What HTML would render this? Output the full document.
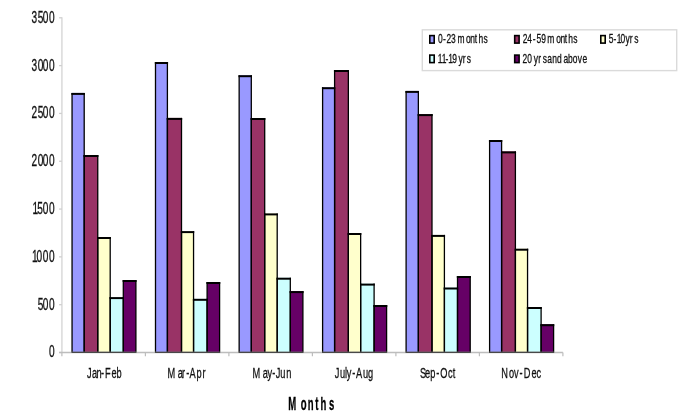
<!DOCTYPE html>
<html><head><meta charset="utf-8"><title>Chart</title>
<style>
html,body{margin:0;padding:0;background:#fff;width:685px;height:420px;overflow:hidden}
svg{display:block}
text{font-family:"Liberation Sans",sans-serif;fill:#111;stroke:#111;stroke-width:0.3px}
.tt{font-weight:bold;fill:#000;stroke:#000}
</style></head>
<body>
<svg width="685" height="420" viewBox="0 0 685 420">
<rect width="685" height="420" fill="#fff"/>
<line x1="61.9" y1="17.2" x2="61.9" y2="352.5" stroke="#dedede" stroke-width="1.7"/>
<line x1="59.1" y1="352.50" x2="61.9" y2="352.50" stroke="#cfcfcf" stroke-width="1.3"/>
<text transform="translate(49.10 357.40) scale(0.6450 1)" x="-0.00" y="0" font-size="15.7" class="t">0</text>
<line x1="59.1" y1="304.69" x2="61.9" y2="304.69" stroke="#cfcfcf" stroke-width="1.3"/>
<text transform="translate(37.69 309.59) scale(0.6450 1)" x="0.00 7.77 17.69" y="0" font-size="15.7" class="t">500</text>
<line x1="59.1" y1="256.87" x2="61.9" y2="256.87" stroke="#cfcfcf" stroke-width="1.3"/>
<text transform="translate(32.03 261.77) scale(0.6450 1)" x="-0.00 6.94 16.55 26.47" y="0" font-size="15.7" class="t">1000</text>
<line x1="59.1" y1="209.06" x2="61.9" y2="209.06" stroke="#cfcfcf" stroke-width="1.3"/>
<text transform="translate(32.43 213.96) scale(0.6450 1)" x="-0.00 7.39 15.93 25.85" y="0" font-size="15.7" class="t">1500</text>
<line x1="59.1" y1="161.24" x2="61.9" y2="161.24" stroke="#cfcfcf" stroke-width="1.3"/>
<text transform="translate(31.39 166.14) scale(0.6450 1)" x="-0.00 9.79 17.54 27.46" y="0" font-size="15.7" class="t">2000</text>
<line x1="59.1" y1="113.43" x2="61.9" y2="113.43" stroke="#cfcfcf" stroke-width="1.3"/>
<text transform="translate(31.39 118.33) scale(0.6450 1)" x="-0.00 9.77 17.54 27.46" y="0" font-size="15.7" class="t">2500</text>
<line x1="59.1" y1="65.61" x2="61.9" y2="65.61" stroke="#cfcfcf" stroke-width="1.3"/>
<text transform="translate(31.51 70.51) scale(0.6450 1)" x="-0.00 9.60 17.35 27.27" y="0" font-size="15.7" class="t">3000</text>
<line x1="59.1" y1="17.80" x2="61.9" y2="17.80" stroke="#cfcfcf" stroke-width="1.3"/>
<text transform="translate(31.51 22.70) scale(0.6450 1)" x="-0.00 9.58 17.35 27.27" y="0" font-size="15.7" class="t">3500</text>
<rect x="72.05" y="92.90" width="12.15" height="259.60" fill="#9999FF"/>
<rect x="84.20" y="155.00" width="13.55" height="197.50" fill="#993366"/>
<rect x="97.75" y="237.00" width="12.45" height="115.50" fill="#FFFFCC"/>
<rect x="110.20" y="297.10" width="13.10" height="55.40" fill="#CCFFFF"/>
<rect x="123.30" y="280.00" width="12.60" height="72.50" fill="#660066"/>
<rect x="155.50" y="62.00" width="11.90" height="290.50" fill="#9999FF"/>
<rect x="167.40" y="117.90" width="14.10" height="234.60" fill="#993366"/>
<rect x="181.50" y="231.10" width="12.05" height="121.40" fill="#FFFFCC"/>
<rect x="193.55" y="298.80" width="13.55" height="53.70" fill="#CCFFFF"/>
<rect x="207.10" y="282.00" width="12.50" height="70.50" fill="#660066"/>
<rect x="239.15" y="75.20" width="12.15" height="277.30" fill="#9999FF"/>
<rect x="251.30" y="118.00" width="13.40" height="234.50" fill="#993366"/>
<rect x="264.70" y="213.40" width="12.50" height="139.10" fill="#FFFFCC"/>
<rect x="277.20" y="277.70" width="13.10" height="74.80" fill="#CCFFFF"/>
<rect x="290.30" y="291.10" width="12.60" height="61.40" fill="#660066"/>
<rect x="322.60" y="87.20" width="12.00" height="265.30" fill="#9999FF"/>
<rect x="334.60" y="70.00" width="13.75" height="282.50" fill="#993366"/>
<rect x="348.35" y="233.00" width="12.30" height="119.50" fill="#FFFFCC"/>
<rect x="360.65" y="283.60" width="13.45" height="68.90" fill="#CCFFFF"/>
<rect x="374.10" y="305.00" width="12.50" height="47.50" fill="#660066"/>
<rect x="406.10" y="90.90" width="12.25" height="261.60" fill="#9999FF"/>
<rect x="418.35" y="114.10" width="13.65" height="238.40" fill="#993366"/>
<rect x="432.00" y="234.90" width="12.40" height="117.60" fill="#FFFFCC"/>
<rect x="444.40" y="287.50" width="13.10" height="65.00" fill="#CCFFFF"/>
<rect x="457.50" y="276.00" width="12.70" height="76.50" fill="#660066"/>
<rect x="489.60" y="140.00" width="12.00" height="212.50" fill="#9999FF"/>
<rect x="501.60" y="151.40" width="13.80" height="201.10" fill="#993366"/>
<rect x="515.40" y="248.70" width="12.15" height="103.80" fill="#FFFFCC"/>
<rect x="527.55" y="307.00" width="13.55" height="45.50" fill="#CCFFFF"/>
<rect x="541.10" y="324.20" width="12.50" height="28.30" fill="#660066"/>
<g stroke="#000" stroke-width="1.3"><line x1="72.05" y1="92.90" x2="72.05" y2="352.50"/>
<line x1="84.20" y1="92.90" x2="84.20" y2="352.50"/>
<line x1="71.40" y1="93.90" x2="84.85" y2="93.90" stroke-width="2.0"/>
<line x1="84.20" y1="155.00" x2="84.20" y2="352.50"/>
<line x1="97.75" y1="155.00" x2="97.75" y2="352.50"/>
<line x1="83.55" y1="156.00" x2="98.40" y2="156.00" stroke-width="2.0"/>
<line x1="97.75" y1="237.00" x2="97.75" y2="352.50"/>
<line x1="110.20" y1="237.00" x2="110.20" y2="352.50"/>
<line x1="97.10" y1="238.00" x2="110.85" y2="238.00" stroke-width="2.0"/>
<line x1="110.20" y1="297.10" x2="110.20" y2="352.50"/>
<line x1="123.30" y1="297.10" x2="123.30" y2="352.50"/>
<line x1="109.55" y1="298.10" x2="123.95" y2="298.10" stroke-width="2.0"/>
<line x1="123.30" y1="280.00" x2="123.30" y2="352.50"/>
<line x1="135.90" y1="280.00" x2="135.90" y2="352.50"/>
<line x1="122.65" y1="281.00" x2="136.55" y2="281.00" stroke-width="2.0"/>
<line x1="155.50" y1="62.00" x2="155.50" y2="352.50"/>
<line x1="167.40" y1="62.00" x2="167.40" y2="352.50"/>
<line x1="154.85" y1="63.00" x2="168.05" y2="63.00" stroke-width="2.0"/>
<line x1="167.40" y1="117.90" x2="167.40" y2="352.50"/>
<line x1="181.50" y1="117.90" x2="181.50" y2="352.50"/>
<line x1="166.75" y1="118.90" x2="182.15" y2="118.90" stroke-width="2.0"/>
<line x1="181.50" y1="231.10" x2="181.50" y2="352.50"/>
<line x1="193.55" y1="231.10" x2="193.55" y2="352.50"/>
<line x1="180.85" y1="232.10" x2="194.20" y2="232.10" stroke-width="2.0"/>
<line x1="193.55" y1="298.80" x2="193.55" y2="352.50"/>
<line x1="207.10" y1="298.80" x2="207.10" y2="352.50"/>
<line x1="192.90" y1="299.80" x2="207.75" y2="299.80" stroke-width="2.0"/>
<line x1="207.10" y1="282.00" x2="207.10" y2="352.50"/>
<line x1="219.60" y1="282.00" x2="219.60" y2="352.50"/>
<line x1="206.45" y1="283.00" x2="220.25" y2="283.00" stroke-width="2.0"/>
<line x1="239.15" y1="75.20" x2="239.15" y2="352.50"/>
<line x1="251.30" y1="75.20" x2="251.30" y2="352.50"/>
<line x1="238.50" y1="76.20" x2="251.95" y2="76.20" stroke-width="2.0"/>
<line x1="251.30" y1="118.00" x2="251.30" y2="352.50"/>
<line x1="264.70" y1="118.00" x2="264.70" y2="352.50"/>
<line x1="250.65" y1="119.00" x2="265.35" y2="119.00" stroke-width="2.0"/>
<line x1="264.70" y1="213.40" x2="264.70" y2="352.50"/>
<line x1="277.20" y1="213.40" x2="277.20" y2="352.50"/>
<line x1="264.05" y1="214.40" x2="277.85" y2="214.40" stroke-width="2.0"/>
<line x1="277.20" y1="277.70" x2="277.20" y2="352.50"/>
<line x1="290.30" y1="277.70" x2="290.30" y2="352.50"/>
<line x1="276.55" y1="278.70" x2="290.95" y2="278.70" stroke-width="2.0"/>
<line x1="290.30" y1="291.10" x2="290.30" y2="352.50"/>
<line x1="302.90" y1="291.10" x2="302.90" y2="352.50"/>
<line x1="289.65" y1="292.10" x2="303.55" y2="292.10" stroke-width="2.0"/>
<line x1="322.60" y1="87.20" x2="322.60" y2="352.50"/>
<line x1="334.60" y1="87.20" x2="334.60" y2="352.50"/>
<line x1="321.95" y1="88.20" x2="335.25" y2="88.20" stroke-width="2.0"/>
<line x1="334.60" y1="70.00" x2="334.60" y2="352.50"/>
<line x1="348.35" y1="70.00" x2="348.35" y2="352.50"/>
<line x1="333.95" y1="71.00" x2="349.00" y2="71.00" stroke-width="2.0"/>
<line x1="348.35" y1="233.00" x2="348.35" y2="352.50"/>
<line x1="360.65" y1="233.00" x2="360.65" y2="352.50"/>
<line x1="347.70" y1="234.00" x2="361.30" y2="234.00" stroke-width="2.0"/>
<line x1="360.65" y1="283.60" x2="360.65" y2="352.50"/>
<line x1="374.10" y1="283.60" x2="374.10" y2="352.50"/>
<line x1="360.00" y1="284.60" x2="374.75" y2="284.60" stroke-width="2.0"/>
<line x1="374.10" y1="305.00" x2="374.10" y2="352.50"/>
<line x1="386.60" y1="305.00" x2="386.60" y2="352.50"/>
<line x1="373.45" y1="306.00" x2="387.25" y2="306.00" stroke-width="2.0"/>
<line x1="406.10" y1="90.90" x2="406.10" y2="352.50"/>
<line x1="418.35" y1="90.90" x2="418.35" y2="352.50"/>
<line x1="405.45" y1="91.90" x2="419.00" y2="91.90" stroke-width="2.0"/>
<line x1="418.35" y1="114.10" x2="418.35" y2="352.50"/>
<line x1="432.00" y1="114.10" x2="432.00" y2="352.50"/>
<line x1="417.70" y1="115.10" x2="432.65" y2="115.10" stroke-width="2.0"/>
<line x1="432.00" y1="234.90" x2="432.00" y2="352.50"/>
<line x1="444.40" y1="234.90" x2="444.40" y2="352.50"/>
<line x1="431.35" y1="235.90" x2="445.05" y2="235.90" stroke-width="2.0"/>
<line x1="444.40" y1="287.50" x2="444.40" y2="352.50"/>
<line x1="457.50" y1="287.50" x2="457.50" y2="352.50"/>
<line x1="443.75" y1="288.50" x2="458.15" y2="288.50" stroke-width="2.0"/>
<line x1="457.50" y1="276.00" x2="457.50" y2="352.50"/>
<line x1="470.20" y1="276.00" x2="470.20" y2="352.50"/>
<line x1="456.85" y1="277.00" x2="470.85" y2="277.00" stroke-width="2.0"/>
<line x1="489.60" y1="140.00" x2="489.60" y2="352.50"/>
<line x1="501.60" y1="140.00" x2="501.60" y2="352.50"/>
<line x1="488.95" y1="141.00" x2="502.25" y2="141.00" stroke-width="2.0"/>
<line x1="501.60" y1="151.40" x2="501.60" y2="352.50"/>
<line x1="515.40" y1="151.40" x2="515.40" y2="352.50"/>
<line x1="500.95" y1="152.40" x2="516.05" y2="152.40" stroke-width="2.0"/>
<line x1="515.40" y1="248.70" x2="515.40" y2="352.50"/>
<line x1="527.55" y1="248.70" x2="527.55" y2="352.50"/>
<line x1="514.75" y1="249.70" x2="528.20" y2="249.70" stroke-width="2.0"/>
<line x1="527.55" y1="307.00" x2="527.55" y2="352.50"/>
<line x1="541.10" y1="307.00" x2="541.10" y2="352.50"/>
<line x1="526.90" y1="308.00" x2="541.75" y2="308.00" stroke-width="2.0"/>
<line x1="541.10" y1="324.20" x2="541.10" y2="352.50"/>
<line x1="553.60" y1="324.20" x2="553.60" y2="352.50"/>
<line x1="540.45" y1="325.20" x2="554.25" y2="325.20" stroke-width="2.0"/></g>
<line x1="59.1" y1="352.5" x2="562.9" y2="352.5" stroke="#bdbdbd" stroke-width="1.3"/>
<line x1="61.90" y1="352.5" x2="61.90" y2="356.3" stroke="#bdbdbd" stroke-width="1.2"/>
<line x1="145.40" y1="352.5" x2="145.40" y2="356.3" stroke="#bdbdbd" stroke-width="1.2"/>
<line x1="228.90" y1="352.5" x2="228.90" y2="356.3" stroke="#bdbdbd" stroke-width="1.2"/>
<line x1="312.40" y1="352.5" x2="312.40" y2="356.3" stroke="#bdbdbd" stroke-width="1.2"/>
<line x1="395.90" y1="352.5" x2="395.90" y2="356.3" stroke="#bdbdbd" stroke-width="1.2"/>
<line x1="479.40" y1="352.5" x2="479.40" y2="356.3" stroke="#bdbdbd" stroke-width="1.2"/>
<line x1="562.90" y1="352.5" x2="562.90" y2="356.3" stroke="#bdbdbd" stroke-width="1.2"/>
<line x1="71.45" y1="352.25" x2="136.50" y2="352.25" stroke="#222" stroke-width="1.2"/>
<line x1="154.90" y1="352.25" x2="220.20" y2="352.25" stroke="#222" stroke-width="1.2"/>
<line x1="238.55" y1="352.25" x2="303.50" y2="352.25" stroke="#222" stroke-width="1.2"/>
<line x1="322.00" y1="352.25" x2="387.20" y2="352.25" stroke="#222" stroke-width="1.2"/>
<line x1="405.50" y1="352.25" x2="470.80" y2="352.25" stroke="#222" stroke-width="1.2"/>
<line x1="489.00" y1="352.25" x2="554.20" y2="352.25" stroke="#222" stroke-width="1.2"/>
<text transform="translate(86.96 378.40) scale(0.6000 1)" x="-0.00 8.25 16.05 23.56 30.14 40.92 49.25" y="0" font-size="15.4" class="t">Jan-Feb</text>
<text transform="translate(167.54 378.40) scale(0.6000 1)" x="0.00 16.94 24.24 31.25 36.73 48.44 58.24" y="0" font-size="15.4" class="t">Mar-Apr</text>
<text transform="translate(252.54 378.40) scale(0.6000 1)" x="0.00 16.94 24.73 32.91 38.86 46.26 56.07" y="0" font-size="15.4" class="t">May-Jun</text>
<text transform="translate(334.86 378.40) scale(0.6000 1)" x="0.00 8.41 16.70 19.87 29.06 35.21 46.74 55.43" y="0" font-size="15.4" class="t">July-Aug</text>
<text transform="translate(419.88 378.40) scale(0.6000 1)" x="-0.00 8.71 17.21 27.35 33.80 47.05 54.63" y="0" font-size="15.4" class="t">Sep-Oct</text>
<text transform="translate(501.24 378.40) scale(0.6000 1)" x="-0.00 13.12 21.38 30.58 37.67 50.44 58.61" y="0" font-size="15.4" class="t">Nov-Dec</text>
<text transform="translate(288.26 409.70) scale(0.5300 1)" x="-0.00 23.71 37.00 51.17 60.89 76.99" y="0" font-size="18" class="tt">Months</text>
<rect x="422.3" y="29.8" width="254.4" height="40.8" fill="#fff" stroke="#dadada" stroke-width="1.4"/>
<rect x="429.80" y="35.60" width="4.4" height="7.5" fill="#9999FF" stroke="#000" stroke-width="1.6"/>
<text transform="translate(438.07 42.90) scale(0.6600 1)" x="-0.00 7.66 12.89 19.71 26.83 29.50 42.39 48.59 55.76 61.13 68.78" y="0" font-size="12.8" class="t">0-23 months</text>
<rect x="514.70" y="35.60" width="4.4" height="7.5" fill="#993366" stroke="#000" stroke-width="1.6"/>
<text transform="translate(522.78 42.90) scale(0.6600 1)" x="0.00 6.87 15.08 20.89 28.07 35.19 36.91 50.86 57.07 63.63 68.85 76.50" y="0" font-size="12.8" class="t">24-59 months</text>
<rect x="600.80" y="35.60" width="4.4" height="7.5" fill="#FFFFCC" stroke="#000" stroke-width="1.6"/>
<text transform="translate(608.86 42.90) scale(0.6600 1)" x="0.00 7.06 11.96 17.74 25.03 31.48 38.34" y="0" font-size="12.8" class="t">5-10yrs</text>
<rect x="429.80" y="55.10" width="4.4" height="7.5" fill="#CCFFFF" stroke="#000" stroke-width="1.6"/>
<text transform="translate(437.76 62.80) scale(0.6600 1)" x="0.00 5.91 11.92 16.06 22.04 29.16 31.40 37.85 43.95" y="0" font-size="12.8" class="t">11-19 yrs</text>
<rect x="514.70" y="55.10" width="4.4" height="7.5" fill="#660066" stroke="#000" stroke-width="1.6"/>
<text transform="translate(522.58 62.80) scale(0.6600 1)" x="0.00 7.11 14.23 16.98 23.88 30.59 36.99 37.37 44.79 52.08 59.19 62.07 68.76 76.02 83.48 90.71" y="0" font-size="12.8" class="t">20 yrs and above</text>
</svg>
</body></html>
